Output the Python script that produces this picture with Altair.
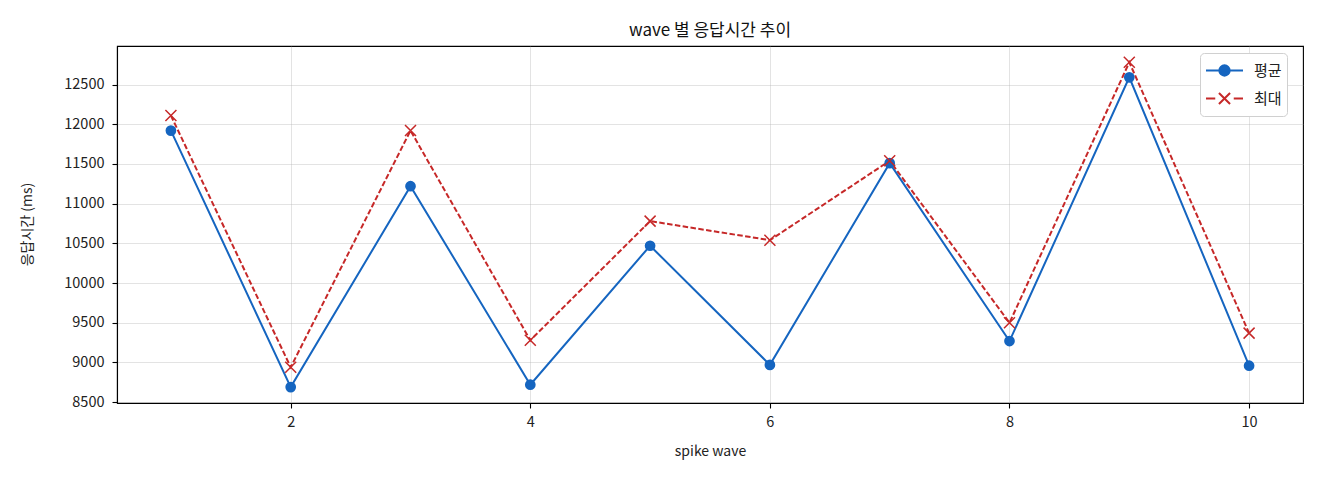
import altair as alt
import pandas as pd

waves = [1, 2, 3, 4, 5, 6, 7, 8, 9, 10]
mean_ms = [11920, 8690, 11220, 8720, 10470, 8970, 11510, 9270, 12590, 8960]
max_ms = [12110, 8940, 11920, 9280, 10780, 10540, 11540, 9500, 12780, 9370]
series = ["평균", "최대"]
colors = ["#1565C0", "#C62828"]
x_ticks = [2, 4, 6, 8, 10]
y_ticks = [8500, 9000, 9500, 10000, 10500, 11000, 11500, 12000, 12500]

FONT = "Noto Sans CJK KR"

df = pd.concat([
    pd.DataFrame({"wave": waves, "ms": mean_ms, "series": series[0]}),
    pd.DataFrame({"wave": waves, "ms": max_ms, "series": series[1]}),
])

x_enc = alt.X("wave:Q", title="spike wave",
              scale=alt.Scale(domain=[0.55, 10.45], nice=False, zero=False),
              axis=alt.Axis(values=x_ticks, labelPadding=7, titleY=48, titleBaseline="middle"))
y_enc = alt.Y("ms:Q", title="응답시간 (ms)",
              scale=alt.Scale(domain=[8490, 12985], nice=False, zero=False),
              axis=alt.Axis(values=y_ticks, format="d", labelPadding=8,
                            titleX=-90, titleY=178,
                            titleAlign="center", titleBaseline="middle"))

mean_df = df[df["series"] == series[0]]
max_df = df[df["series"] == series[1]]

mean_line = alt.Chart(mean_df).mark_line(strokeWidth=2, color=colors[0]).encode(x=x_enc, y=y_enc)
max_line = alt.Chart(max_df).mark_line(strokeWidth=2, color=colors[1],
                                       strokeDash=[5.5, 2.4]).encode(x=x_enc, y=y_enc)

mean_pts = alt.Chart(mean_df).mark_point(
    shape="circle", filled=True, size=115, opacity=1, color=colors[0]
).encode(x=x_enc, y=y_enc)

max_pts = alt.Chart(max_df).mark_point(
    shape="M-1,-1L1,1M-1,1L1,-1", filled=False, size=121, strokeWidth=1.5,
    opacity=1, color=colors[1]
).encode(x=x_enc, y=y_enc)

# legend only: no rows drawn, entries come from the scale domain
leg = alt.Legend(orient="none", legendX=1083, legendY=7, title=None,
                 symbolSize=1369, symbolStrokeWidth=2, symbolOpacity=1,
                 clipHeight=25, rowPadding=3, padding=5, labelOffset=10,
                 labelFontSize=15, labelFont=FONT, labelColor="#222",
                 strokeColor="#d0d0d0", fillColor="white", cornerRadius=4)
legend_paths = [
    "M-1,0L1,0M0.28,0A0.28,0.28,0,1,1,-0.28,0A0.28,0.28,0,1,1,0.28,0Z",
    "M-1,0L-0.5,0M0.5,0L1,0M-0.3,-0.3L0.3,0.3M-0.3,0.3L0.3,-0.3",
]
legend_layer = alt.Chart(df).transform_filter("false").mark_point(
    filled=False, opacity=1, strokeWidth=2
).encode(
    x=x_enc, y=y_enc,
    stroke=alt.Stroke("series:N", scale=alt.Scale(domain=series, range=colors), legend=leg),
    fill=alt.Fill("series:N", scale=alt.Scale(domain=series, range=colors), legend=leg),
    shape=alt.Shape("series:N", scale=alt.Scale(domain=series, range=legend_paths), legend=leg),
)

chart = alt.layer(mean_line, max_line, mean_pts, max_pts, legend_layer).properties(
    width=1186, height=357,
    autosize=alt.AutoSizeParams(type="none"),
    padding={"left": 109, "top": 38, "right": 9, "bottom": 69},
    title=alt.Title("wave 별 응답시간 추이", font=FONT, fontSize=17,
                    fontWeight="normal", color="#111", offset=6),
).configure_view(
    stroke="black", strokeWidth=1.1
).configure_axis(
    labelFont=FONT, titleFont=FONT, labelFontSize=14.5, titleFontSize=14,
    titleFontWeight="normal", labelColor="#222", titleColor="#222",
    domainColor="black", domainWidth=1.1, tickColor="black", tickSize=5,
    tickWidth=1.1, grid=True, gridColor="#b0b0b0",
    gridOpacity=0.35, gridWidth=1
)

chart.save("out.html", embed_options={"renderer": "svg", "actions": False})
